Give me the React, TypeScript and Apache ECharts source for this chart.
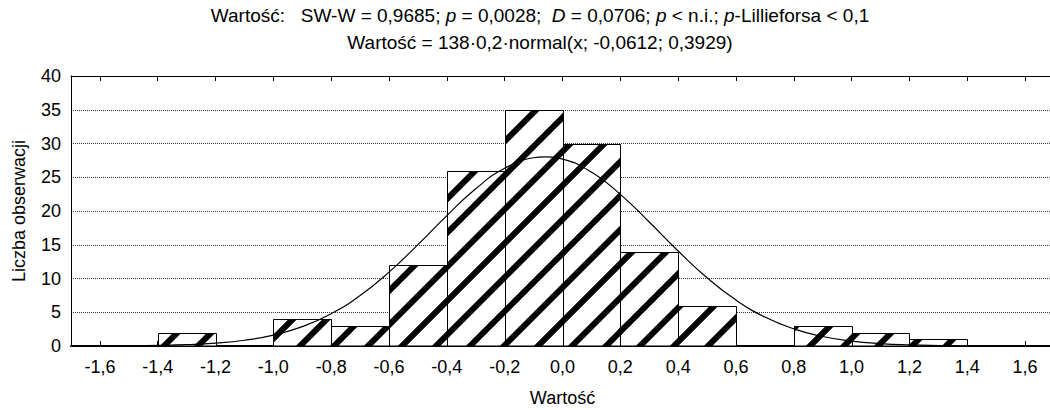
import React, { useEffect, useRef } from "react";
import * as echarts from "echarts";

// Histogram bins (left edge, width 0.2) and counts
const binStarts = [-1.4, -1.0, -0.8, -0.6, -0.4, -0.2, 0.0, 0.2, 0.4, 0.8, 1.0, 1.2];
const binCounts = [2, 4, 3, 12, 26, 35, 30, 14, 6, 3, 2, 1];
const binWidth = 0.2;

// Fitted normal curve points
const curveX = [-1.7, -1.6, -1.5, -1.4, -1.3, -1.2, -1.1, -1.0, -0.9, -0.8, -0.7, -0.6, -0.5, -0.4, -0.3, -0.2, -0.1, -0.0612, 0.0, 0.1, 0.2, 0.3, 0.4, 0.5, 0.6, 0.7, 0.8, 0.9, 1.0, 1.1, 1.2, 1.3, 1.4, 1.5, 1.6, 1.7];
const curveY = [0.005, 0.013, 0.034, 0.084, 0.195, 0.42, 0.851, 1.613, 2.87, 4.784, 7.474, 10.944, 15.021, 19.323, 23.299, 26.33, 27.889, 28.025, 27.687, 25.763, 22.469, 18.365, 14.072, 10.104, 6.801, 4.29, 2.537, 1.406, 0.73, 0.356, 0.162, 0.069, 0.028, 0.01, 0.004, 0.001];

const xTicks = [-1.6, -1.4, -1.2, -1.0, -0.8, -0.6, -0.4, -0.2, 0.0, 0.2, 0.4, 0.6, 0.8, 1.0, 1.2, 1.4, 1.6];

const titleLine1 = "Wartość:   SW-W = 0,9685; {i|p} = 0,0028;  {i|D} = 0,0706; {i|p} < n.i.; {i|p}-Lillieforsa < 0,1";
const titleLine2 = "Wartość = 138·0,2·normal(x; -0,0612; 0,3929)";
const xName = "Wartość";
const yName = "Liczba obserwacji";

const FONT = "'Liberation Sans', Arial, sans-serif";

function makeHatch(): string {
  const P = 34;
  const c = document.createElement("canvas");
  c.width = P;
  c.height = P;
  const ctx = c.getContext("2d")!;
  ctx.fillStyle = "#fff";
  ctx.fillRect(0, 0, P, P);
  ctx.strokeStyle = "#000";
  ctx.lineWidth = 6;
  for (const k of [0, P, 2 * P]) {
    ctx.beginPath();
    ctx.moveTo(k + 6, -6);
    ctx.lineTo(k - P - 6, P + 6);
    ctx.stroke();
  }
  return c.toDataURL();
}

export default function App() {
  const ref = useRef<HTMLDivElement>(null);
  useEffect(() => {
    if (!ref.current) return;
    const chart = echarts.init(ref.current, null, { renderer: "svg" });
    const hatch = {
      image: makeHatch(),
      repeat: "repeat",
      imageWidth: 34,
      imageHeight: 34,
      x: 21,
      y: 0,
    };
    const fmt = (v: number) => (Math.abs(v) < 1e-9 ? 0 : v).toFixed(1).replace(".", ",");
    const option: any = {
      animation: false,
      backgroundColor: "#fff",
      graphic: [
        {
          type: "text",
          x: 540,
          y: 15,
          style: {
            text: titleLine1,
            align: "center",
            verticalAlign: "middle",
            fontSize: 19,
            fontFamily: FONT,
            fill: "#000",
            rich: { i: { fontStyle: "italic", fontSize: 19, fontFamily: FONT, fill: "#000" } },
          },
        },
        {
          type: "text",
          x: 540,
          y: 42,
          style: {
            text: titleLine2,
            align: "center",
            verticalAlign: "middle",
            fontSize: 19,
            fontFamily: FONT,
            fill: "#000",
          },
        },
      ],
      grid: { left: 71, top: 76, right: 6, bottom: 64, containLabel: false, outerBoundsMode: "none" },
      xAxis: [
        {
          type: "value",
          position: "bottom",
          min: -1.7,
          max: 1.7,
          name: xName,
          nameLocation: "middle",
          nameGap: 43,
          nameTextStyle: { color: "#000", fontSize: 18, fontFamily: FONT },
          axisLine: { show: true, onZero: false, lineStyle: { color: "#000", width: 2 } },
          axisTick: { show: true, inside: true, length: 5, customValues: xTicks, lineStyle: { color: "#000" } },
          axisLabel: { customValues: xTicks, formatter: fmt, color: "#000", fontSize: 18, fontFamily: FONT, margin: 12 },
          splitLine: { show: false },
        },
        {
          type: "value",
          position: "top",
          min: -1.7,
          max: 1.7,
          axisLine: { show: true, onZero: false, lineStyle: { color: "#000", width: 1 } },
          axisTick: { show: true, inside: true, length: 5, customValues: xTicks, lineStyle: { color: "#000" } },
          axisLabel: { show: false },
          splitLine: { show: false },
        },
      ],
      yAxis: {
        type: "value",
        min: 0,
        max: 40,
        interval: 5,
        name: yName,
        nameLocation: "middle",
        nameGap: 43,
        nameRotate: 90,
        nameTextStyle: { color: "#000", fontSize: 18, fontFamily: FONT },
        axisLine: { show: true, onZero: false, lineStyle: { color: "#000", width: 1 } },
        axisTick: { show: false },
        axisLabel: { color: "#000", fontSize: 18, fontFamily: FONT, margin: 10 },
        splitLine: { show: true, lineStyle: { color: "#333", width: 1, type: [1, 1] } },
      },
      series: [
        {
          type: "custom",
          xAxisIndex: 0,
          yAxisIndex: 0,
          data: binStarts.map((s, i) => [s, s + binWidth, binCounts[i]]),
          encode: { x: [0, 1], y: 2 },
          renderItem: (params: any, api: any) => {
            const p0 = api.coord([api.value(0), api.value(2)]);
            const p1 = api.coord([api.value(1), 0]);
            const x0 = Math.round(p0[0]) + 0.5;
            const x1 = Math.round(p1[0]) + 0.5;
            const y0 = Math.round(p0[1]) + 0.5;
            const y1 = Math.round(p1[1]);
            return {
              type: "rect",
              shape: { x: x0, y: y0, width: x1 - x0, height: y1 - y0 },
              style: { fill: hatch, stroke: "#000", lineWidth: 1 },
            };
          },
          z: 2,
        },
        {
          type: "line",
          xAxisIndex: 0,
          yAxisIndex: 0,
          data: curveX.map((x, i) => [x, curveY[i]]),
          smooth: true,
          symbol: "none",
          showSymbol: false,
          lineStyle: { color: "#000", width: 1.2 },
          silent: true,
          z: 3,
        },
      ],
    };
    chart.setOption(option);
    return () => chart.dispose();
  }, []);
  return <div ref={ref} style={{ position: "fixed", left: 0, top: 0, width: 1060, height: 410 }} />;
}
